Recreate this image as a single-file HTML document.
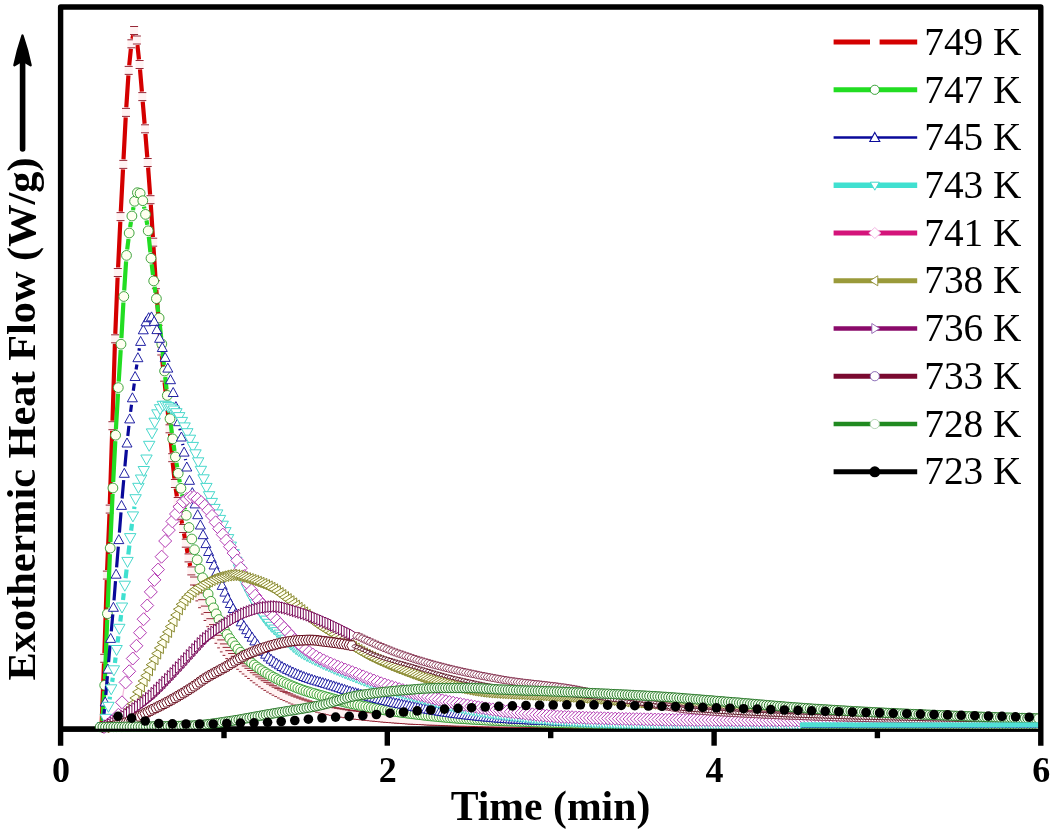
<!DOCTYPE html>
<html lang="en"><head><meta charset="utf-8"><title>Exothermic Heat Flow vs Time</title>
<style>html,body{margin:0;padding:0;background:#fff}body{width:1053px;height:835px;overflow:hidden}svg{display:block}</style>
</head><body>
<svg width="1053" height="835" viewBox="0 0 1053 835">
<rect width="1053" height="835" fill="#fff"/>
<defs>
<marker id="ma" markerUnits="userSpaceOnUse" markerWidth="16" markerHeight="16" refX="8" refY="8" viewBox="0 0 16 16" orient="0" overflow="visible"><rect x="4" y="4" width="8" height="8" fill="#fff2f2"/><path d="M4 4H12M4 12H12" stroke="#8a1020" stroke-width="0.9"/></marker>
<marker id="mb" markerUnits="userSpaceOnUse" markerWidth="16" markerHeight="16" refX="8" refY="8" viewBox="0 0 16 16" orient="0" overflow="visible"><circle cx="8" cy="8" r="4.9" fill="#fffff0" stroke="#2a9a2a" stroke-width="0.9"/></marker>
<marker id="mc" markerUnits="userSpaceOnUse" markerWidth="16" markerHeight="16" refX="8" refY="8" viewBox="0 0 16 16" orient="0" overflow="visible"><polygon points="8,3 13,12 3,12" fill="#fff" stroke="#0a0a9a" stroke-width="0.9"/></marker>
<marker id="md" markerUnits="userSpaceOnUse" markerWidth="16" markerHeight="16" refX="8" refY="8" viewBox="0 0 16 16" orient="0" overflow="visible"><polygon points="8,13.5 13.7,3.5 2.3,3.5" fill="#fff" stroke="#48d8cc" stroke-width="1.0"/></marker>
<marker id="nd" markerUnits="userSpaceOnUse" markerWidth="16" markerHeight="16" refX="8" refY="8" viewBox="0 0 16 16" orient="0" overflow="visible"><rect x="6" y="5.3" width="4" height="5" fill="#50e0d4"/></marker>
<marker id="me" markerUnits="userSpaceOnUse" markerWidth="16" markerHeight="16" refX="8" refY="8" viewBox="0 0 16 16" orient="0" overflow="visible"><polygon points="8,1.5 14.5,8 8,14.5 1.5,8" fill="#fff" stroke="#b43cb4" stroke-width="1.0"/></marker>
<marker id="mf" markerUnits="userSpaceOnUse" markerWidth="16" markerHeight="16" refX="8" refY="8" viewBox="0 0 16 16" orient="0" overflow="visible"><polygon points="3,8 12,2.4 12,13.6" fill="#fffff0" stroke="#8a8a30" stroke-width="1.0"/></marker>
<marker id="mg" markerUnits="userSpaceOnUse" markerWidth="16" markerHeight="16" refX="8" refY="8" viewBox="0 0 16 16" orient="0" overflow="visible"><polygon points="13,8 4,2.2 4,13.8" fill="#fff" stroke="#7a0a5a" stroke-width="1.0"/></marker>
<marker id="ng" markerUnits="userSpaceOnUse" markerWidth="16" markerHeight="16" refX="8" refY="8" viewBox="0 0 16 16" orient="0" overflow="visible"><polygon points="4.5,8 7,4.6 11.5,4.6 9,8 11.5,11.4 7,11.4" fill="#fff" stroke="#7a2040" stroke-width="0.8"/></marker>
<marker id="mh" markerUnits="userSpaceOnUse" markerWidth="16" markerHeight="16" refX="8" refY="8" viewBox="0 0 16 16" orient="0" overflow="visible"><polygon points="3,8 5.5,3.3 10.5,3.3 13,8 10.5,12.7 5.5,12.7" fill="#fff" stroke="#6a1020" stroke-width="1.0"/></marker>
<marker id="nh" markerUnits="userSpaceOnUse" markerWidth="16" markerHeight="16" refX="8" refY="8" viewBox="0 0 16 16" orient="0" overflow="visible"><polygon points="5.5,8 7,6.4 10.5,6.4 9,8 10.5,9.6 7,9.6" fill="#fff" stroke="#5a1020" stroke-width="0.9"/></marker>
<marker id="mi" markerUnits="userSpaceOnUse" markerWidth="16" markerHeight="16" refX="8" refY="8" viewBox="0 0 16 16" orient="0" overflow="visible"><circle cx="8" cy="8" r="4.7" fill="#f4fff0" stroke="#2a7a2a" stroke-width="1.0"/></marker>
<marker id="mj" markerUnits="userSpaceOnUse" markerWidth="16" markerHeight="16" refX="8" refY="8" viewBox="0 0 16 16" orient="0" overflow="visible"><circle cx="8" cy="8" r="4.8" fill="#000" stroke="#000" stroke-width="0"/></marker>
</defs>
<path d="M60.6 729H1040.8" stroke="#000" stroke-width="5.4" fill="none"/>
<clipPath id="pc"><rect x="56" y="0" width="987" height="740"/></clipPath>
<g fill="none" stroke-linejoin="round" clip-path="url(#pc)">
<path d="M101.7 722L104 663.3M104.4 653.3L106.8 580.1M107.1 570.1L109.5 514.1M109.8 504.1L112.2 430.7M112.5 420.7L114.9 343.8M115.3 333.8L117.6 277.5M118.1 267.5L120.3 221.6M120.8 211.6L123 169.4M123.5 159.4L125.7 117.4M126.3 107.4L128.4 75.3M129.2 65.4L130.9 48.7M132.4 38.9L133.1 35.4M137.4 44.9L139 59.5M140 69.4L141.9 91.6M142.7 101.6L144.6 123.8M145.4 133.8L147.3 157.5M148.1 167.5L150.1 194.7M150.8 204.7L152.9 237.2M153.5 247.2L155.6 279.7M156.3 289.7L158.3 316.4M159.1 326.4L160.9 346M161.9 356L163.5 372.2M164.6 382.2L166.2 397.4M167.3 407.3L169 423.8M170 433.8L171.8 452.7M172.7 462.7L174.4 478.6M175.7 488.5L176.9 496.5M178.6 506.4L179.4 510.3M181.4 520.2L182.1 523.6M184 533.4L184.9 538.3M186.7 548.1L187.6 553M189.6 562.8L190.2 566" stroke="#d40000" stroke-width="4.2"/>
<polyline points="101.5,727 104.2,658.3 106.9,575.1 109.7,509.1 112.4,425.7 115.1,338.8 117.8,272.5 120.5,216.6 123.3,164.4 126,112.4 128.7,70.4 131.4,43.8 134.1,30.5 136.9,40 139.6,64.5 142.3,96.6 145,128.8 147.7,162.5 150.5,199.7 153.2,242.2 155.9,284.7 158.6,321.4 161.3,351 164.1,377.2 166.8,402.3 169.5,428.8 172.2,457.7 174.9,483.5 177.7,501.5 180.4,515.3 183.1,528.5 185.8,543.2 188.5,557.9 191.3,570.9 194,581 196.7,589.4 199.4,596.9 202.1,603.7 204.9,610.1 207.6,616.5 210.3,622.7 213,628.6 215.7,634.2 218.5,639.3 221.2,643.9 223.9,647.9 226.6,651.4 229.3,654.6 232.1,657.5 234.8,660.3 237.5,662.8 240.2,665.3 242.9,667.7 245.7,670 248.4,672.3 251.1,674.5 253.8,676.7 256.5,678.8 259.3,680.9 262,682.8 264.7,684.7 267.4,686.4 270.1,688.1 272.9,689.7 275.6,691.2 278.3,692.6 281,694 283.7,695.4 286.5,696.6 289.2,697.8 291.9,699 294.6,700.1 297.3,701.1 300.1,702.1 302.8,703.1 305.5,704 308.2,704.9 310.9,705.8 313.7,706.6 316.4,707.4 319.1,708.2 321.8,708.9 324.5,709.5 327.3,710.1 330,710.7 332.7,711.3 335.4,711.8 338.1,712.3 340.9,712.8 343.6,713.2 346.3,713.7 349,714.1 351.7,714.5 354.5,714.8 357.2,715.2 359.9,715.5 362.6,715.8 365.3,716.1 368.1,716.4 370.8,716.7 373.5,717 376.2,717.2 378.9,717.5 381.7,717.8 384.4,718 387.1,718.3 389.8,718.5 392.5,718.7 395.3,718.9 398,719.1 400.7,719.3 403.4,719.5 406.1,719.7 408.9,719.9 411.6,720.1 414.3,720.2 417,720.4 419.7,720.5 422.5,720.6 425.2,720.7 427.9,720.9 430.6,721 433.3,721.1 436.1,721.2 438.8,721.3 441.5,721.4 444.2,721.5 446.9,721.6 449.7,721.7 452.4,721.8 455.1,721.9 457.8,722 460.5,722.1 463.3,722.2 466,722.2 468.7,722.3 471.4,722.4 474.1,722.5 476.9,722.5 479.6,722.6 482.3,722.7 485,722.7 487.7,722.8 490.5,722.8 493.2,722.9 495.9,722.9 498.6,723 501.3,723 504.1,723.1 506.8,723.1 509.5,723.1 512.2,723.2 514.9,723.2 517.7,723.3 520.4,723.3 523.1,723.3 525.8,723.4 528.5,723.4 531.3,723.4 534,723.5 536.7,723.5 539.4,723.5 542.1,723.6 544.9,723.6 547.6,723.6 550.3,723.7 553,723.7 555.7,723.7 558.5,723.7 561.2,723.8 563.9,723.8 566.6,723.8 569.3,723.8 572.1,723.9 574.8,723.9 577.5,723.9 580.2,723.9 582.9,723.9 585.7,723.9 588.4,724 591.1,724 593.8,724 596.5,724 599.3,724 602,724 604.7,724 607.4,724 610.1,724 612.9,724 615.6,724 618.3,724 621,724.1 623.7,724.1 626.5,724.1 629.2,724.1 631.9,724.1 634.6,724.1 637.3,724.1 640.1,724.1 642.8,724.1 645.5,724.1 648.2,724.1 650.9,724.1 653.7,724.1 656.4,724.1 659.1,724.1 661.8,724.1 664.5,724.1 667.3,724.1 670,724.2 672.7,724.2 675.4,724.2 678.1,724.2 680.9,724.2 683.6,724.2 686.3,724.2 689,724.2 691.7,724.2 694.5,724.2 697.2,724.2 699.9,724.2 702.6,724.2 705.3,724.2 708.1,724.2 710.8,724.2 713.5,724.2 716.2,724.2 718.9,724.2 721.7,724.2 724.4,724.3 727.1,724.3 729.8,724.3 732.5,724.3 735.3,724.3 738,724.3 740.7,724.3 743.4,724.3 746.1,724.3 748.9,724.3 751.6,724.3 754.3,724.3 757,724.3 759.7,724.3 762.5,724.3 765.2,724.3 767.9,724.3 770.6,724.3 773.3,724.3 776.1,724.3 778.8,724.3 781.5,724.3 784.2,724.3 786.9,724.3 789.7,724.3 792.4,724.4 795.1,724.4 797.8,724.4 800.5,724.4 803.3,724.4 806,724.4 808.7,724.4 811.4,724.4 814.1,724.4 816.9,724.4 819.6,724.4 822.3,724.4 825,724.4 827.7,724.4 830.5,724.4 833.2,724.4 835.9,724.4 838.6,724.4 841.3,724.4 844.1,724.4 846.8,724.4 849.5,724.4 852.2,724.4 854.9,724.4 857.7,724.4 860.4,724.4 863.1,724.4 865.8,724.4 868.5,724.4 871.3,724.4 874,724.4 876.7,724.4 879.4,724.4 882.1,724.4 884.9,724.4 887.6,724.4 890.3,724.4 893,724.5 895.7,724.5 898.5,724.5 901.2,724.5 903.9,724.5 906.6,724.5 909.3,724.5 912.1,724.5 914.8,724.5 917.5,724.5 920.2,724.5 922.9,724.5 925.7,724.5 928.4,724.5 931.1,724.5 933.8,724.5 936.5,724.5 939.3,724.5 942,724.5 944.7,724.5 947.4,724.5 950.1,724.5 952.9,724.5 955.6,724.5 958.3,724.5 961,724.5 963.7,724.5 966.5,724.5 969.2,724.5 971.9,724.5 974.6,724.5 977.3,724.5 980.1,724.5 982.8,724.5 985.5,724.5 988.2,724.5 990.9,724.5 993.7,724.5 996.4,724.5 999.1,724.5 1001.8,724.5 1004.5,724.5 1007.3,724.5 1010,724.5 1012.7,724.5 1015.4,724.5 1018.1,724.5 1020.9,724.5 1023.6,724.5 1026.3,724.5 1029,724.5 1031.7,724.5 1034.5,724.5 1037.2,724.5 1039.9,724.5" stroke="none" marker-start="url(#ma)" marker-mid="url(#ma)" marker-end="url(#ma)"/>
<path d="M102.4 721L104.3 691.2M104.9 679.3L107.2 619.7M107.7 607.7L109.9 554.1M110.4 542.1L112.6 494M113.2 482L115.3 441.2M115.9 429.3L118 393.6M118.7 381.6L120.7 350.2M121.4 338.2L123.4 302.5M124.2 290.5L126.1 261.4M127.2 249.4L128.5 239M130.1 227.1L131 221.9M133 210.1L133.5 207.2M144 206.6L144.4 208.6M146.5 220.4L147.3 224.9M148.8 236.8L150.4 252.4M151.7 264.3L153 274.9M154.6 286.8L155.5 292.7M157.2 304.6L158.3 312.1M159.7 324L161.2 338M162.4 349.9L164 365M165.2 376.9L166.6 389.5M168 401.4L169.3 412.7M170.8 424.6L171.9 433M173.6 444.8L174.5 451M176.4 462.8L177.2 467.4M179.2 479.2L179.8 482.4M182 494.2L182.5 496.4M184.8 508.1L185.1 509.4" stroke="#22dd22" stroke-width="4.2"/>
<polyline points="102,727 104.7,685.3 107.4,613.7 110.2,548.1 112.9,488 115.6,435.2 118.3,387.6 121,344.2 123.8,296.5 126.5,255.4 129.2,233 131.9,216 134.6,201.3 137.4,192.7 140.1,193.4 142.8,200.7 145.5,214.4 148.2,230.8 151,258.3 153.7,280.9 156.4,298.6 159.1,318 161.8,343.9 164.6,371 167.3,395.4 170,418.7 172.7,438.9 175.4,456.9 178.2,473.3 180.9,488.3 183.6,502.3 186.3,515.3 189,527.5 191.8,539 194.5,549.7 197.2,559.8 199.9,569.1 202.6,577.8 205.4,586.1 208.1,594 210.8,601.3 213.5,607.9 216.2,613.9 219,619.5 221.7,624.8 224.4,629.8 227.1,634.4 229.8,638.6 232.6,642.4 235.3,645.9 238,649.2 240.7,652.3 243.4,655.2 246.2,657.9 248.9,660.5 251.6,662.9 254.3,665 257,667 259.8,668.9 262.5,670.7 265.2,672.4 267.9,674 270.6,675.6 273.4,677.1 276.1,678.5 278.8,679.9 281.5,681.2 284.2,682.5 287,683.7 289.7,684.9 292.4,686 295.1,687.1 297.8,688.2 300.6,689.2 303.3,690.2 306,691.1 308.7,691.9 311.4,692.8 314.2,693.5 316.9,694.3 319.6,695.1 322.3,695.8 325,696.6 327.8,697.3 330.5,698.1 333.2,698.9 335.9,699.6 338.6,700.4 341.4,701.2 344.1,701.9 346.8,702.6 349.5,703.2 352.2,703.8 355,704.4 357.7,705 360.4,705.5 363.1,706.1 365.8,706.6 368.6,707.1 371.3,707.6 374,708.1 376.7,708.6 379.4,709.1 382.2,709.5 384.9,710 387.6,710.4 390.3,710.8 393,711.2 395.8,711.6 398.5,712 401.2,712.4 403.9,712.7 406.6,713.1 409.4,713.4 412.1,713.8 414.8,714.1 417.5,714.4 420.2,714.7 423,715.1 425.7,715.4 428.4,715.7 431.1,716 433.8,716.2 436.6,716.5 439.3,716.8 442,717 444.7,717.3 447.4,717.5 450.2,717.8 452.9,718 455.6,718.2 458.3,718.4 461,718.6 463.8,718.7 466.5,718.9 469.2,719.1 471.9,719.3 474.6,719.4 477.4,719.6 480.1,719.7 482.8,719.9 485.5,720 488.2,720.2 491,720.3 493.7,720.4 496.4,720.6 499.1,720.7 501.8,720.8 504.6,720.9 507.3,721 510,721.1 512.7,721.2 515.4,721.3 518.2,721.4 520.9,721.5 523.6,721.6 526.3,721.7 529,721.8 531.8,721.9 534.5,722 537.2,722.1 539.9,722.2 542.6,722.3 545.4,722.3 548.1,722.4 550.8,722.5 553.5,722.6 556.2,722.7 559,722.8 561.7,722.8 564.4,722.9 567.1,723 569.8,723 572.6,723.1 575.3,723.2 578,723.2 580.7,723.3 583.4,723.3 586.2,723.4 588.9,723.4 591.6,723.4 594.3,723.5 597,723.5 599.8,723.5 602.5,723.5 605.2,723.5 607.9,723.5 610.6,723.6 613.4,723.6 616.1,723.6 618.8,723.6 621.5,723.6 624.2,723.6 627,723.6 629.7,723.6 632.4,723.7 635.1,723.7 637.8,723.7 640.6,723.7 643.3,723.7 646,723.7 648.7,723.7 651.4,723.7 654.2,723.8 656.9,723.8 659.6,723.8 662.3,723.8 665,723.8 667.8,723.8 670.5,723.8 673.2,723.8 675.9,723.8 678.6,723.9 681.4,723.9 684.1,723.9 686.8,723.9 689.5,723.9 692.2,723.9 695,723.9 697.7,723.9 700.4,723.9 703.1,724 705.8,724 708.6,724 711.3,724 714,724 716.7,724 719.4,724 722.2,724 724.9,724 727.6,724 730.3,724 733,724.1 735.8,724.1 738.5,724.1 741.2,724.1 743.9,724.1 746.6,724.1 749.4,724.1 752.1,724.1 754.8,724.1 757.5,724.1 760.2,724.1 763,724.1 765.7,724.2 768.4,724.2 771.1,724.2 773.8,724.2 776.6,724.2 779.3,724.2 782,724.2 784.7,724.2 787.4,724.2 790.2,724.2 792.9,724.2 795.6,724.2 798.3,724.2 801,724.2 803.8,724.2 806.5,724.3 809.2,724.3 811.9,724.3 814.6,724.3 817.4,724.3 820.1,724.3 822.8,724.3 825.5,724.3 828.2,724.3 831,724.3 833.7,724.3 836.4,724.3 839.1,724.3 841.8,724.3 844.6,724.3 847.3,724.3 850,724.3 852.7,724.3 855.4,724.4 858.2,724.4 860.9,724.4 863.6,724.4 866.3,724.4 869,724.4 871.8,724.4 874.5,724.4 877.2,724.4 879.9,724.4 882.6,724.4 885.4,724.4 888.1,724.4 890.8,724.4 893.5,724.4 896.2,724.4 899,724.4 901.7,724.4 904.4,724.4 907.1,724.4 909.8,724.4 912.6,724.4 915.3,724.4 918,724.4 920.7,724.4 923.4,724.4 926.2,724.4 928.9,724.4 931.6,724.5 934.3,724.5 937,724.5 939.8,724.5 942.5,724.5 945.2,724.5 947.9,724.5 950.6,724.5 953.4,724.5 956.1,724.5 958.8,724.5 961.5,724.5 964.2,724.5 967,724.5 969.7,724.5 972.4,724.5 975.1,724.5 977.8,724.5 980.6,724.5 983.3,724.5 986,724.5 988.7,724.5 991.4,724.5 994.2,724.5 996.9,724.5 999.6,724.5 1002.3,724.5 1005,724.5 1007.8,724.5 1010.5,724.5 1013.2,724.5 1015.9,724.5 1018.6,724.5 1021.4,724.5 1024.1,724.5 1026.8,724.5 1029.5,724.5 1032.2,724.5 1035,724.5 1037.7,724.5" stroke="none" marker-start="url(#mb)" marker-mid="url(#mb)" marker-end="url(#mb)"/>
<path d="M103.3 720L104.5 709M105.8 695L107.4 676.1M108.6 662.1L110 645.3M111.3 631.4L112.8 614.3M114 600.3L115.5 581.2M116.6 567.3L118.3 546.6M119.4 532.6L121 512.4M122.1 498.5L123.7 480.2M124.9 466.3L126.4 449.9M127.8 436L128.9 425.8M130.6 411.9L131.5 404.7M133.3 390.8L134.3 383.5M136.1 369.6L136.9 364.6M139 350.8L139.4 348.3M177.2 413.5L177.4 414.8M179.9 428.6L180.2 430.2M182.6 443.9L182.9 445.2M185.4 459L185.6 460.1" stroke="#0a0a9a" stroke-width="3.2"/>
<polyline points="102.5,727 105.2,702 107.9,669.1 110.7,638.4 113.4,607.3 116.1,574.2 118.8,539.6 121.5,505.4 124.3,473.3 127,443 129.7,418.9 132.4,397.8 135.1,376.5 137.9,357.7 140.6,341.4 143.3,329.8 146,321.8 148.7,317.7 151.5,316.9 154.2,321.4 156.9,329.6 159.6,338.3 162.3,347.5 165.1,357.4 167.8,368.1 170.5,379.7 173.2,392.5 175.9,406.6 178.7,421.7 181.4,437 184.1,452.1 186.8,467 189.5,480.3 192.3,492.6 195,503.9 197.7,514.7 200.4,525 203.1,534.7 205.9,543.6 208.6,551.5 211.3,558.5 214,565 216.7,571.6 219.5,578.5 222.2,585.4 224.9,592.1 227.6,598.2 230.3,603.5 233.1,608.5 235.8,613.2 238.5,617.6 241.2,621.8 243.9,625.8 246.7,629.7 249.4,633.5 252.1,637.2 254.8,640.9 257.5,644.6 260.3,648 263,651.3 265.7,654.2 268.4,656.9 271.1,659.2 273.9,661.3 276.6,663.1 279.3,664.8 282,666.5 284.7,668 287.5,669.4 290.2,670.7 292.9,672 295.6,673.2 298.3,674.3 301.1,675.4 303.8,676.5 306.5,677.5 309.2,678.4 311.9,679.3 314.7,680.2 317.4,681 320.1,681.8 322.8,682.6 325.5,683.4 328.3,684.2 331,685.1 333.7,685.9 336.4,686.8 339.1,687.7 341.9,688.6 344.6,689.4 347.3,690.3 350,691.1 352.7,691.9 355.5,692.7 358.2,693.4 360.9,694.2 363.6,694.9 366.3,695.7 369.1,696.4 371.8,697.1 374.5,697.8 377.2,698.5 379.9,699.2 382.7,699.8 385.4,700.5 388.1,701.1 390.8,701.7 393.5,702.4 396.3,703 399,703.5 401.7,704.1 404.4,704.7 407.1,705.2 409.9,705.8 412.6,706.3 415.3,706.8 418,707.3 420.7,707.9 423.5,708.4 426.2,708.9 428.9,709.3 431.6,709.8 434.3,710.3 437.1,710.7 439.8,711.2 442.5,711.6 445.2,712 447.9,712.4 450.7,712.8 453.4,713.2 456.1,713.6 458.8,713.9 461.5,714.2 464.3,714.6 467,714.9 469.7,715.2 472.4,715.5 475.1,715.8 477.9,716.1 480.6,716.4 483.3,716.7 486,716.9 488.7,717.2 491.5,717.4 494.2,717.7 496.9,717.9 499.6,718.1 502.3,718.3 505.1,718.5 507.8,718.7 510.5,718.9 513.2,719 515.9,719.2 518.7,719.3 521.4,719.4 524.1,719.6 526.8,719.7 529.5,719.8 532.3,719.9 535,720.1 537.7,720.2 540.4,720.3 543.1,720.4 545.9,720.5 548.6,720.6 551.3,720.7 554,720.8 556.7,720.9 559.5,721 562.2,721.1 564.9,721.2 567.6,721.3 570.3,721.3 573.1,721.4 575.8,721.5 578.5,721.6 581.2,721.6 583.9,721.7 586.7,721.8 589.4,721.8 592.1,721.9 594.8,721.9 597.5,722 600.3,722 603,722 605.7,722.1 608.4,722.1 611.1,722.2 613.9,722.2 616.6,722.2 619.3,722.3 622,722.3 624.7,722.4 627.5,722.4 630.2,722.4 632.9,722.5 635.6,722.5 638.3,722.5 641.1,722.6 643.8,722.6 646.5,722.6 649.2,722.7 651.9,722.7 654.7,722.7 657.4,722.7 660.1,722.8 662.8,722.8 665.5,722.8 668.3,722.8 671,722.8 673.7,722.9 676.4,722.9 679.1,722.9 681.9,722.9 684.6,722.9 687.3,722.9 690,723 692.7,723 695.5,723 698.2,723 700.9,723 703.6,723 706.3,723 709.1,723 711.8,723 714.5,723 717.2,723 719.9,723.1 722.7,723.1 725.4,723.1 728.1,723.1 730.8,723.1 733.5,723.1 736.3,723.1 739,723.1 741.7,723.1 744.4,723.1 747.1,723.1 749.9,723.1 752.6,723.1 755.3,723.2 758,723.2 760.7,723.2 763.5,723.2 766.2,723.2 768.9,723.2 771.6,723.2 774.3,723.2 777.1,723.2 779.8,723.2 782.5,723.2 785.2,723.2 787.9,723.2 790.7,723.2 793.4,723.2 796.1,723.2 798.8,723.2 801.5,723.3 804.3,723.3 807,723.3 809.7,723.3 812.4,723.3 815.1,723.3 817.9,723.3 820.6,723.3 823.3,723.3 826,723.3 828.7,723.3 831.5,723.3 834.2,723.3 836.9,723.3 839.6,723.3 842.3,723.3 845.1,723.3 847.8,723.3 850.5,723.3 853.2,723.4 855.9,723.4 858.7,723.4 861.4,723.4 864.1,723.4 866.8,723.4 869.5,723.4 872.3,723.4 875,723.4 877.7,723.4 880.4,723.4 883.1,723.4 885.9,723.4 888.6,723.4 891.3,723.4 894,723.4 896.7,723.4 899.5,723.4 902.2,723.4 904.9,723.4 907.6,723.4 910.3,723.4 913.1,723.4 915.8,723.4 918.5,723.4 921.2,723.4 923.9,723.4 926.7,723.4 929.4,723.4 932.1,723.5 934.8,723.5 937.5,723.5 940.3,723.5 943,723.5 945.7,723.5 948.4,723.5 951.1,723.5 953.9,723.5 956.6,723.5 959.3,723.5 962,723.5 964.7,723.5 967.5,723.5 970.2,723.5 972.9,723.5 975.6,723.5 978.3,723.5 981.1,723.5 983.8,723.5 986.5,723.5 989.2,723.5 991.9,723.5 994.7,723.5 997.4,723.5 1000.1,723.5 1002.8,723.5 1005.5,723.5 1008.3,723.5 1011,723.5 1013.7,723.5 1016.4,723.5 1019.1,723.5 1021.9,723.5 1024.6,723.5 1027.3,723.5 1030,723.5 1032.7,723.5 1035.5,723.5 1038.2,723.5" stroke="none" marker-start="url(#mc)" marker-mid="url(#mc)" marker-end="url(#mc)"/>
<path d="M109.6 699.4L110 696.7M112.2 681.9L112.8 677.7M114.9 662.9L115.6 657.5M117.6 642.6L118.4 636.3M120.3 621.4L121.1 614.9M123 600L123.8 593.2M125.6 578.3L126.6 569.4M128.3 554.5L129.4 545.5M131.1 530.6L132 523.9M134.1 509L134.5 506.6" stroke="#40e0d0" stroke-width="4.2"/>
<polyline points="103,727 105.7,718.8 108.4,706.8 111.2,689.3 113.9,670.3 116.6,650 119.3,628.8 122,607.5 124.8,585.7 127.5,561.9 130.2,538.1 132.9,516.4 135.6,499.2 138.4,487.8 141.1,479.5 143.8,471 146.5,459.5 149.2,445.8 152,433.4 154.7,422.7 157.4,414.3 160.1,409.2 162.8,405.8 165.6,405.8 168.3,407.1 171,408.6 173.7,410.5 176.4,413.2 179.2,417.1 181.9,421.9 184.6,427.4 187.3,433.2 190,439.7 192.8,446.9 195.5,454.3 198.2,462.3 200.9,470.8 203.6,479.3 206.4,487.9 209.1,496.2 211.8,502.9 214.5,508.9 217.2,514.4 220,519.9 222.7,525.7 225.4,532.1 228.1,539.1 230.8,546.6 233.6,554.2 236.3,561.8 239,569.3 241.7,576.5 244.4,583.2 247.2,589.1 249.9,594.4 252.6,599.5 255.3,604.3 258,608.8 260.8,613 263.5,617 266.2,620.6 268.9,623.8 271.6,626.8 274.4,629.5 277.1,632.1 279.8,634.6 282.5,637.1 285.2,639.6 288,642.1 290.7,644.6 293.4,647 296.1,649.2 298.8,651.2 301.6,653 304.3,654.6 307,656.1 309.7,657.5 312.4,658.8 315.2,660.1 317.9,661.4 320.6,662.7 323.3,664 326,665.2 328.8,666.4 331.5,667.6 334.2,668.8 336.9,669.9 339.6,671.1 342.4,672.2 345.1,673.3 347.8,674.4 350.5,675.5 353.2,676.5 356,677.6 358.7,678.6 361.4,679.7 364.1,680.7 366.8,681.7 369.6,682.7 372.3,683.7 375,684.7 377.7,685.6 380.4,686.6 383.2,687.5 385.9,688.4 388.6,689.2 391.3,690.1 394,690.9 396.8,691.7 399.5,692.5 402.2,693.3 404.9,694 407.6,694.7 410.4,695.5 413.1,696.2 415.8,696.9 418.5,697.6 421.2,698.3 424,699.1 426.7,699.8 429.4,700.5 432.1,701.3 434.8,702 437.6,702.7 440.3,703.4 443,704.1 445.7,704.8 448.4,705.5 451.2,706.1 453.9,706.7 456.6,707.3 459.3,707.9 462,708.4 464.8,708.9 467.5,709.4 470.2,709.9 472.9,710.4 475.6,710.8 478.4,711.3 481.1,711.7 483.8,712.2 486.5,712.6 489.2,713 492,713.4 494.7,713.8 497.4,714.2 500.1,714.5 502.8,714.9 505.6,715.2 508.3,715.6 511,715.9 513.7,716.2 516.4,716.5 519.2,716.8 521.9,717.1 524.6,717.4 527.3,717.7 530,718 532.8,718.3 535.5,718.5 538.2,718.8 540.9,719 543.6,719.3 546.4,719.5 549.1,719.8 551.8,720 554.5,720.2 557.2,720.4 560,720.6 562.7,720.8 565.4,721 568.1,721.1 570.8,721.3 573.6,721.5 576.3,721.6 579,721.8 581.7,721.9 584.4,722.1 587.2,722.2 589.9,722.3 592.6,722.5 595.3,722.6 598,722.7 600.8,722.8 603.5,722.9 606.2,723 608.9,723.1 611.6,723.2 614.4,723.3 617.1,723.4 619.8,723.5 622.5,723.6 625.2,723.6 628,723.7 630.7,723.8 633.4,723.9 636.1,723.9 638.8,724 641.6,724.1 644.3,724.1 647,724.2 649.7,724.3 652.4,724.3 655.2,724.4 657.9,724.5 660.6,724.5 663.3,724.6 666,724.6 668.8,724.7 671.5,724.7 674.2,724.8 676.9,724.8 679.6,724.8 682.4,724.9 685.1,724.9 687.8,724.9 690.5,725 693.2,725 696,725 698.7,725 701.4,725 704.1,725 706.8,725 709.6,725 712.3,725 715,725 717.7,725 720.4,725 723.2,725 725.9,725 728.6,725 731.3,725 734,725 736.8,725 739.5,725.1 742.2,725.1 744.9,725.1 747.6,725.1 750.4,725.1 753.1,725.1 755.8,725.1 758.5,725.1 761.2,725.1 764,725.1 766.7,725.1 769.4,725.1 772.1,725.1 774.8,725.1 777.6,725.1 780.3,725.1 783,725.1 785.7,725.1 788.4,725.1 791.2,725.1 793.9,725.1 796.6,725.1 799.3,725.1" stroke="none" marker-start="url(#md)" marker-mid="url(#md)" marker-end="url(#md)"/>
<path d="M104 727L106 725.8L108 724.4L110 722.8L112 721L114 719.3L116 717.6L118 715.4L120 712.1L121.5 706.1L122 702.3L122.5 698.2L123 694.3L123.5 690.9L124.5 686.4L125.5 682.8L126.5 679.6L128 675.2L129 672L130 668.5L131 665L132 661.4L133 657.8L134 654.2L135 650.7L136 647.2L137 643.7L138 640.1L139 636.4L140 632.7L141 629L142 625.2L143 621.5L144 617.7L145 613.9L146 610.1L147 606.3L148 602.4L149 598.6L150 594.8L151 591.2L152 587.8L153 584.4L154 581.1L155 578L156.5 573.7L158 569.6L159.5 565.1L160.5 561.3L161.5 557.1L162.5 552.6L163.5 548.1L164.5 543.8L165.5 539.9L166.5 536.6L168 532.2L169.5 528.2L171 524.6L172.5 521.2L174 518L175.5 515L177 512L179 508L181 504.6L183 501.9L185 500.2L187 498.8L189 497.7L191 497L193 496.8L195 497.4L197 498.5L199 500.1L201 501.9L203 504L205 506L207 508.3L209 511.1L211 514.2L213 517.7L215 521.2L217 524.8L219 528.3L221 531.6L223 534.9L225 538.2L227 541.5L229 544.9L231 548.4L233 552L235 555.8L236.5 558.9L238 562.1L239.5 565.3L241 568.7L242.5 572L244 575.3L245.5 578.5L247 581.6L248.5 584.7L250.5 588.4L252.5 591.7L254.5 594.7L256.5 597.4L258.5 600L260.5 602.4L262.5 604.7L264.5 606.9L266.5 609.1L268.5 611.3L270.5 613.6L272.5 615.8L274.5 617.9L276.5 620.1L278.5 622.2L280.5 624.3L282.5 626.4L284.5 628.5L286.5 630.6L288.5 632.9L290.5 635.1L292.5 637.4L294.5 639.6L296.5 641.7L298.5 643.7L300.5 645.4L302.5 647.1L304.5 648.7L306.5 650.2L308.5 651.6L310.5 653L312.5 654.3L314.5 655.6L316.5 656.7L318.5 657.8L320.5 658.9L322.5 659.9L324.5 660.8L326.5 661.8L328.5 662.7L330.5 663.6L332.5 664.4L334.5 665.3L336.5 666.1L338.5 666.9L340.5 667.7L342.5 668.4L344.5 669.2L346.5 670L348.5 670.7L350.5 671.5L352.5 672.2L354.5 673L356.5 673.8L358.5 674.6L360.5 675.4L362.5 676.2L364.5 677L366.5 677.7L368.5 678.5L370.5 679.3L372.5 680L374.5 680.8L376.5 681.5L378.5 682.3L380.5 683L382.5 683.7L384.5 684.4L386.5 685.1L388.5 685.8L390.5 686.4L392.5 687.1L394.5 687.7L396.5 688.3L398.5 688.9L400.5 689.5L402.5 690L404.5 690.6L406.5 691.1L408.5 691.7L410.5 692.2L412.5 692.8L414.5 693.3L416.5 693.8L418.5 694.4L420.5 694.9L422.5 695.4L424.5 695.9L426.5 696.5L428.5 697L430.5 697.5L432.5 698L434.5 698.5L436.5 699L438.5 699.5L440.5 699.9L442.5 700.4L444.5 700.9L446.5 701.3L448.5 701.8L450.5 702.2L452.5 702.6L454.5 703L456.5 703.4L458.5 703.8L460.5 704.2L462.5 704.5L464.5 704.9L466.5 705.2L468.5 705.6L470.5 705.9L472.5 706.3L474.5 706.6L476.5 706.9L478.5 707.3L480.5 707.6L482.5 707.9L484.5 708.2L486.5 708.5L488.5 708.8L490.5 709.1L492.5 709.4L494.5 709.7L496.5 709.9L498.5 710.2L500.5 710.5L502.5 710.7L504.5 711L506.5 711.2L508.5 711.5L510.5 711.7L512.5 712L514.5 712.2L516.5 712.4L518.5 712.7L520.5 712.9L522.5 713.1L524.5 713.4L526.5 713.6L528.5 713.8L530.5 714L532.5 714.3L534.5 714.5L536.5 714.7L538.5 714.9L540.5 715.1L542.5 715.3L544.5 715.5L546.5 715.7L548.5 715.9L550.5 716L552.5 716.2L554.5 716.3L556.5 716.5L558.5 716.6L560.5 716.7L562.5 716.8L564.5 716.9L566.5 717L568.5 717.1L570.5 717.2L572.5 717.3L574.5 717.3L576.5 717.4L578.5 717.5L580.5 717.5L582.5 717.6L584.5 717.7L586.5 717.8L588.5 717.8L590.5 717.9L592.5 718L594.5 718L596.5 718.1L598.5 718.1L600.5 718.2L602.5 718.3L604.5 718.3L606.5 718.4L608.5 718.4L610.5 718.5L612.5 718.6L614.5 718.6L616.5 718.7L618.5 718.7L620.5 718.8L622.5 718.8L624.5 718.9L626.5 718.9L628.5 719L630.5 719L632.5 719.1L634.5 719.1L636.5 719.1L638.5 719.2L640.5 719.2L642.5 719.3L644.5 719.3L646.5 719.3L648.5 719.4L650.5 719.4L652.5 719.5L654.5 719.5L656.5 719.5L658.5 719.6L660.5 719.6L662.5 719.6L664.5 719.6L666.5 719.7L668.5 719.7L670.5 719.7L672.5 719.7L674.5 719.8L676.5 719.8L678.5 719.8L680.5 719.8L682.5 719.9L684.5 719.9L686.5 719.9L688.5 719.9L690.5 719.9L692.5 719.9L694.5 720L696.5 720L698.5 720L700.5 720L702.5 720L704.5 720L706.5 720L708.5 720L710.5 720.1L712.5 720.1L714.5 720.1L716.5 720.1L718.5 720.1L720.5 720.1L722.5 720.1L724.5 720.1L726.5 720.1L728.5 720.1L730.5 720.2L732.5 720.2L734.5 720.2L736.5 720.2L738.5 720.2L740.5 720.2L742.5 720.2L744.5 720.2L746.5 720.2L748.5 720.2L750.5 720.2L752.5 720.2L754.5 720.2L756.5 720.2L758.5 720.3L760.5 720.3L762.5 720.3L764.5 720.3L766.5 720.3L768.5 720.3L770.5 720.3L772.5 720.3L774.5 720.3L776.5 720.3L778.5 720.3L780.5 720.3L782.5 720.3L784.5 720.3L786.5 720.3L788.5 720.3L790.5 720.3L792.5 720.4L794.5 720.4L796.5 720.4L798.5 720.4L800.5 720.4L802.5 720.4L804.5 720.4L806.5 720.4L808.5 720.4L810.5 720.4L812.5 720.4L814.5 720.4L816.5 720.4L818.5 720.4L820.5 720.4L822.5 720.4L824.5 720.4L826.5 720.4L828.5 720.4L830.5 720.4L832.5 720.5L834.5 720.5L836.5 720.5L838.5 720.5L840.5 720.5L842.5 720.5L844.5 720.5L846.5 720.5L848.5 720.5L850.5 720.5L852.5 720.5L854.5 720.5L856.5 720.5L858.5 720.5L860.5 720.5L862.5 720.5L864.5 720.5L866.5 720.5L868.5 720.6L870.5 720.6L872.5 720.6L874.5 720.6L876.5 720.6L878.5 720.6L880.5 720.6L882.5 720.6L884.5 720.6L886.5 720.6L888.5 720.6L890.5 720.6L892.5 720.6L894.5 720.6L896.5 720.6L898.5 720.6L900.5 720.6L902.5 720.7L904.5 720.7L906.5 720.7L908.5 720.7L910.5 720.7L912.5 720.7L914.5 720.7L916.5 720.7L918.5 720.7L920.5 720.7L922.5 720.7L924.5 720.7L926.5 720.7L928.5 720.7L930.5 720.7L932.5 720.7L934.5 720.7L936.5 720.7L938.5 720.7L940.5 720.8L942.5 720.8L944.5 720.8L946.5 720.8L948.5 720.8L950.5 720.8L952.5 720.8L954.5 720.8L956.5 720.8L958.5 720.8L960.5 720.8L962.5 720.8L964.5 720.8L966.5 720.8L968.5 720.8L970.5 720.8L972.5 720.8L974.5 720.8L976.5 720.8L978.5 720.9L980.5 720.9L982.5 720.9L984.5 720.9L986.5 720.9L988.5 720.9L990.5 720.9L992.5 720.9L994.5 720.9L996.5 720.9L998.5 720.9L1000.5 720.9L1002.5 720.9L1004.5 720.9L1006.5 720.9L1008.5 720.9L1010.5 720.9L1012.5 720.9L1014.5 720.9L1016.5 720.9L1018.5 721L1020.5 721L1022.5 721L1024.5 721L1026.5 721L1028.5 721L1030.5 721L1032.5 721L1034.5 721L1036.5 721L1038.5 721L1040 721" stroke="#f4b8dc" stroke-width="1.2"/>
<polyline points="104,727 107.6,724.7 111.2,721.7 114.8,718.7 118.4,714.8 122,702.3 125.6,682.4 129.2,671.3 132.8,658.5 136.4,645.8 140,632.7 143.6,619.2 147.2,605.5 150.8,591.9 154.4,579.9 158,569.6 161.6,556.7 165.2,541 168.8,530.1 172.4,521.4 176,514 179.6,506.9 183.2,501.7 186.8,499 190.4,497.1 194,497 197.6,498.9 201.2,502.1 204.8,505.8 208.4,510.2 212,515.9 215.6,522.3 219.2,528.7 222.8,534.6 226.4,540.5 230,546.7 233.6,553.1 237.2,560.4 240.8,568.2 244.4,576.1 248,583.7 251.6,590.3 255.2,595.7 258.8,600.3 262.4,604.6 266,608.6 269.6,612.5 273.2,616.5 276.8,620.4 280.4,624.2 284,627.9 287.6,631.9 291.2,635.9 294.8,639.9 298.4,643.6 302,646.7 305.6,649.5 309.2,652.1 312.8,654.5 316.4,656.7 320,658.6 323.6,660.4 327.2,662.1 330.8,663.7 334.4,665.2 338,666.7 341.6,668.1 345.2,669.5 348.8,670.8 352.4,672.2 356,673.6 359.6,675 363.2,676.4 366.8,677.9 370.4,679.2 374,680.6 377.6,681.9 381.2,683.3 384.8,684.5 388.4,685.7 392,686.9 395.6,688 399.2,689.1 402.8,690.1 406.4,691.1 410,692.1 413.6,693.1 417.2,694 420.8,695 424.4,695.9 428,696.9 431.6,697.8 435.2,698.7 438.8,699.5 442.4,700.4 446,701.2 449.6,702 453.2,702.7 456.8,703.5 460.4,704.1 464,704.8 467.6,705.4 471.2,706.1 474.8,706.7 478.4,707.3 482,707.8 485.6,708.4 489.2,708.9 492.8,709.4 496.4,709.9 500,710.4 503.6,710.9 507.2,711.3 510.8,711.8 514.4,712.2 518,712.6 521.6,713 525.2,713.4 528.8,713.9 532.4,714.3 536,714.7 539.6,715 543.2,715.4 546.8,715.7 550.4,716 554,716.3 557.6,716.6 561.2,716.8 564.8,717 568.4,717.1 572,717.2 575.6,717.4 579.2,717.5 582.8,717.6 586.4,717.8 590,717.9 593.6,718 597.2,718.1 600.8,718.2 604.4,718.3 608,718.4 611.6,718.5 615.2,718.6 618.8,718.7 622.4,718.8 626,718.9 629.6,719 633.2,719.1 636.8,719.1 640.4,719.2 644,719.3 647.6,719.4 651.2,719.4 654.8,719.5 658.4,719.5 662,719.6 665.6,719.7 669.2,719.7 672.8,719.8 676.4,719.8 680,719.8 683.6,719.9 687.2,719.9 690.8,719.9 694.4,720 698,720 701.6,720 705.2,720 708.8,720 712.4,720.1 716,720.1 719.6,720.1 723.2,720.1 726.8,720.1 730.4,720.2 734,720.2 737.6,720.2 741.2,720.2 744.8,720.2 748.4,720.2 752,720.2 755.6,720.2 759.2,720.3 762.8,720.3 766.4,720.3 770,720.3 773.6,720.3 777.2,720.3 780.8,720.3 784.4,720.3 788,720.3 791.6,720.3 795.2,720.4 798.8,720.4 802.4,720.4 806,720.4 809.6,720.4 813.2,720.4 816.8,720.4 820.4,720.4 824,720.4 827.6,720.4 831.2,720.4 834.8,720.5 838.4,720.5 842,720.5 845.6,720.5 849.2,720.5 852.8,720.5 856.4,720.5 860,720.5 863.6,720.5 867.2,720.6 870.8,720.6 874.4,720.6 878,720.6 881.6,720.6 885.2,720.6 888.8,720.6 892.4,720.6 896,720.6 899.6,720.6 903.2,720.7 906.8,720.7 910.4,720.7 914,720.7 917.6,720.7 921.2,720.7 924.8,720.7 928.4,720.7 932,720.7 935.6,720.7 939.2,720.8 942.8,720.8 946.4,720.8 950,720.8 953.6,720.8 957.2,720.8 960.8,720.8 964.4,720.8 968,720.8 971.6,720.8 975.2,720.8 978.8,720.9 982.4,720.9 986,720.9 989.6,720.9 993.2,720.9 996.8,720.9 1000.4,720.9 1004,720.9 1007.6,720.9 1011.2,720.9 1014.8,720.9 1018.4,721 1022,721 1025.6,721 1029.2,721 1032.8,721 1036.4,721 1040,721" stroke="none" marker-start="url(#me)" marker-mid="url(#me)" marker-end="url(#me)"/>
<polyline points="105,727 107.7,725.8 110.4,724.4 113.2,722.8 115.9,721.1 118.6,719.3 121.3,717.3 124,715.1 126.8,712.4 129.5,708.9 132.2,703.9 134.9,698 137.6,691.9 140.4,686.4 143.1,681 145.8,675.6 148.5,670.2 151.2,664.7 154,659.1 156.7,653.5 159.4,648 162.1,642.6 164.8,637.2 167.6,631.9 170.3,626.5 173,621 175.7,615 178.4,609.2 181.2,604.3 183.9,600.4 186.6,597.1 189.3,594.2 192,591.6 194.8,589.4 197.5,587.5 200.2,585.7 202.9,584.1 205.6,582.7 208.4,581.3 211.1,580 213.8,578.9 216.5,577.9 219.2,577.2 222,576.5 224.7,575.8 227.4,575.3 230.1,575.1 232.8,575 235.6,575.3 238.3,575.9 241,576.6 243.7,577.4 246.4,578.3 249.2,579.1 251.9,580 254.6,580.9 257.3,581.9 260,582.9 262.8,584 265.5,585.2 268.2,586.5 270.9,587.9 273.6,589.4 276.4,591.1 279.1,593.1 281.8,595.1 284.5,597.2 287.2,599.2 290,601.3 292.7,603.5 295.4,605.7 298.1,607.9 300.8,610.2 303.6,612.5 306.3,614.9 309,617.4 311.7,619.9 314.4,622.2 317.2,624.3 319.9,626.1 322.6,627.9 325.3,629.6 328,631.2 330.8,632.8 333.5,634.5 336.2,636.3 338.9,638 341.6,639.8 344.4,641.6 347.1,643.4 349.8,645.2 352.5,646.9 355.2,648.6 358,650.2 360.7,651.8 363.4,653.4 366.1,654.8 368.8,656.2 371.6,657.5 374.3,658.8 377,660.1 379.7,661.3 382.4,662.5 385.2,663.7 387.9,664.9 390.6,666 393.3,667.1 396,668.2 398.8,669.2 401.5,670.3 404.2,671.3 406.9,672.3 409.6,673.4 412.4,674.3 415.1,675.3 417.8,676.3 420.5,677.2 423.2,678.1 426,679 428.7,679.8 431.4,680.6 434.1,681.3 436.8,682 439.6,682.7 442.3,683.4 445,684.1 447.7,684.8 450.4,685.5 453.2,686.2 455.9,686.8 458.6,687.5 461.3,688.1 464,688.6 466.8,689.2 469.5,689.7 472.2,690.2 474.9,690.6 477.6,691 480.4,691.4 483.1,691.7 485.8,692 488.5,692.2 491.2,692.4 494,692.6 496.7,692.8 499.4,693 502.1,693.1 504.8,693.3 507.6,693.4 510.3,693.5 513,693.7 515.7,693.8 518.4,693.9 521.2,694 523.9,694.2 526.6,694.3 529.3,694.5 532,694.6 534.8,694.8 537.5,694.9 540.2,695.1 542.9,695.2 545.6,695.4 548.4,695.5 551.1,695.7 553.8,695.8 556.5,696 559.2,696.1 562,696.3 564.7,696.4 567.4,696.6 570.1,696.7 572.8,696.9 575.6,697.1 578.3,697.2 581,697.4 583.7,697.6 586.4,697.8 589.2,698 591.9,698.2 594.6,698.5 597.3,698.7 600,698.9 602.8,699.2 605.5,699.4 608.2,699.7 610.9,699.9 613.6,700.2 616.4,700.4 619.1,700.7 621.8,700.9 624.5,701.2 627.2,701.4 630,701.7 632.7,701.9 635.4,702.2 638.1,702.4 640.8,702.7 643.6,702.9 646.3,703.1 649,703.3 651.7,703.6 654.4,703.8 657.2,704 659.9,704.2 662.6,704.4 665.3,704.6 668,704.8 670.8,705 673.5,705.2 676.2,705.4 678.9,705.6 681.6,705.8 684.4,706 687.1,706.2 689.8,706.4 692.5,706.5 695.2,706.7 698,706.9 700.7,707.1 703.4,707.3 706.1,707.5 708.8,707.6 711.6,707.8 714.3,708 717,708.2 719.7,708.4 722.4,708.5 725.2,708.7 727.9,708.9 730.6,709 733.3,709.2 736,709.4 738.8,709.5 741.5,709.7 744.2,709.9 746.9,710 749.6,710.2 752.4,710.4 755.1,710.5 757.8,710.7 760.5,710.9 763.2,711 766,711.2 768.7,711.3 771.4,711.5 774.1,711.6 776.8,711.8 779.6,711.9 782.3,712.1 785,712.2 787.7,712.4 790.4,712.5 793.2,712.7 795.9,712.8 798.6,713 801.3,713.1 804,713.2 806.8,713.3 809.5,713.5 812.2,713.6 814.9,713.7 817.6,713.8 820.4,714 823.1,714.1 825.8,714.2 828.5,714.3 831.2,714.4 834,714.6 836.7,714.7 839.4,714.8 842.1,714.9 844.8,715 847.6,715.1 850.3,715.2 853,715.3 855.7,715.4 858.4,715.6 861.2,715.7 863.9,715.8 866.6,715.9 869.3,716 872,716.1 874.8,716.2 877.5,716.3 880.2,716.4 882.9,716.4 885.6,716.5 888.4,716.6 891.1,716.7 893.8,716.8 896.5,716.9 899.2,717 902,717.1 904.7,717.1 907.4,717.2 910.1,717.3 912.8,717.4 915.6,717.5 918.3,717.6 921,717.6 923.7,717.7 926.4,717.8 929.2,717.9 931.9,718 934.6,718 937.3,718.1 940,718.2 942.8,718.3 945.5,718.3 948.2,718.4 950.9,718.5 953.6,718.6 956.4,718.6 959.1,718.7 961.8,718.8 964.5,718.9 967.2,718.9 970,719 972.7,719.1 975.4,719.1 978.1,719.2 980.8,719.3 983.6,719.3 986.3,719.4 989,719.5 991.7,719.5 994.4,719.6 997.2,719.7 999.9,719.7 1002.6,719.8 1005.3,719.8 1008,719.9 1010.8,720 1013.5,720 1016.2,720.1 1018.9,720.1 1021.6,720.2 1024.4,720.2 1027.1,720.3 1029.8,720.3 1032.5,720.4 1035.2,720.4 1038,720.5" stroke="none" marker-start="url(#mf)" marker-mid="url(#mf)" marker-end="url(#mf)"/>
<polyline points="106,727 108.7,725.8 111.4,724.5 114.2,723.1 116.9,721.6 119.6,720 122.3,718.3 125,716.4 127.8,714.4 130.5,712.4 133.2,710.4 135.9,708.5 138.6,706.5 141.4,704.6 144.1,702.5 146.8,700.4 149.5,698.2 152.2,695.8 155,693.2 157.7,690.5 160.4,687.8 163.1,684.9 165.8,682.1 168.6,679.2 171.3,676.3 174,673.4 176.7,670.5 179.4,667.5 182.2,664.5 184.9,661.4 187.6,658.4 190.3,655.4 193,652.4 195.8,649.4 198.5,646.4 201.2,643.4 203.9,640.7 206.6,638.3 209.4,636.1 212.1,634 214.8,632 217.5,630.1 220.2,628.2 223,626.5 225.7,624.7 228.4,623 231.1,621.2 233.8,619.5 236.6,617.9 239.3,616.4 242,615 244.7,613.7 247.4,612.6 250.2,611.6 252.9,610.6 255.6,609.7 258.3,608.9 261,608.2 263.8,607.7 266.5,607.3 269.2,607 271.9,606.7 274.6,606.5 277.4,606.5 280.1,606.8 282.8,607.2 285.5,607.8 288.2,608.5 291,609.3 293.7,610.1 296.4,610.9 299.1,611.7 301.8,612.5 304.6,613.4 307.3,614.3 310,615.3 312.7,616.3 315.4,617.4 318.2,618.5 320.9,619.6 323.6,620.7 326.3,621.9 329,623 331.8,624.2 334.5,625.5 337.2,626.8 339.9,628.1 342.6,629.4 345.4,630.8 348.1,632.2 350.8,633.5 353.5,634.8" stroke="none" marker-start="url(#mg)" marker-mid="url(#mg)" marker-end="url(#mg)"/>
<polyline points="356.2,636 359,637.2 361.7,638.5 364.4,639.7 367.1,640.9 369.8,642.2 372.6,643.4 375.3,644.6 378,645.8 380.7,646.9 383.4,648.1 386.2,649.2 388.9,650.3 391.6,651.4 394.3,652.4 397,653.4 399.8,654.3 402.5,655.3 405.2,656.2 407.9,657.1 410.6,658 413.4,658.9 416.1,659.8 418.8,660.6 421.5,661.4 424.2,662.2 427,663 429.7,663.8 432.4,664.6 435.1,665.3 437.8,666 440.6,666.7 443.3,667.4 446,668.1 448.7,668.8 451.4,669.4 454.2,670.1 456.9,670.7 459.6,671.3 462.3,671.9 465,672.5 467.8,673.1 470.5,673.7 473.2,674.2 475.9,674.8 478.6,675.4 481.4,675.9 484.1,676.4 486.8,677 489.5,677.5 492.2,678 495,678.5 497.7,679 500.4,679.5 503.1,679.9 505.8,680.4 508.6,680.8 511.3,681.2 514,681.6 516.7,682 519.4,682.3 522.2,682.7 524.9,683 527.6,683.3 530.3,683.6 533,683.9 535.8,684.2 538.5,684.5 541.2,684.8 543.9,685.1 546.6,685.5 549.4,685.8 552.1,686.1 554.8,686.4 557.5,686.8 560.2,687.2 563,687.5 565.7,688 568.4,688.4 571.1,688.8 573.8,689.3 576.6,689.8 579.3,690.4 582,690.9 584.7,691.4 587.4,692 590.2,692.6 592.9,693.1 595.6,693.6 598.3,694.2 601,694.7 603.8,695.2 606.5,695.7 609.2,696.3 611.9,696.8 614.6,697.3 617.4,697.8 620.1,698.3 622.8,698.9 625.5,699.4 628.2,699.9 631,700.4 633.7,700.9 636.4,701.4 639.1,701.9 641.8,702.4 644.6,702.9 647.3,703.4 650,703.8 652.7,704.3 655.4,704.8 658.2,705.2 660.9,705.7 663.6,706.2 666.3,706.6 669,707.1 671.8,707.6 674.5,708 677.2,708.4 679.9,708.8 682.6,709.2 685.4,709.5 688.1,709.8 690.8,710.1 693.5,710.3 696.2,710.6 699,710.8 701.7,711 704.4,711.2 707.1,711.4 709.8,711.6 712.6,711.8 715.3,712 718,712.2 720.7,712.4 723.4,712.5 726.2,712.7 728.9,712.9 731.6,713 734.3,713.2 737,713.3 739.8,713.5 742.5,713.6 745.2,713.8 747.9,713.9 750.6,714 753.4,714.2 756.1,714.3 758.8,714.4 761.5,714.6 764.2,714.7 767,714.8 769.7,714.9 772.4,715.1 775.1,715.2 777.8,715.3 780.6,715.4 783.3,715.5 786,715.6 788.7,715.7 791.4,715.8 794.2,715.9 796.9,716 799.6,716.1 802.3,716.2 805,716.3 807.8,716.4 810.5,716.5 813.2,716.6 815.9,716.7 818.6,716.8 821.4,716.9 824.1,717 826.8,717 829.5,717.1 832.2,717.2 835,717.3 837.7,717.4 840.4,717.5 843.1,717.5 845.8,717.6 848.6,717.7 851.3,717.8 854,717.9 856.7,717.9 859.4,718 862.2,718.1 864.9,718.1 867.6,718.2 870.3,718.3 873,718.4 875.8,718.4 878.5,718.5 881.2,718.6 883.9,718.6 886.6,718.7 889.4,718.8 892.1,718.8 894.8,718.9 897.5,718.9 900.2,719 903,719.1 905.7,719.1 908.4,719.2 911.1,719.2 913.8,719.3 916.6,719.4 919.3,719.4 922,719.5 924.7,719.5 927.4,719.6 930.2,719.6 932.9,719.7 935.6,719.8 938.3,719.8 941,719.9 943.8,719.9 946.5,720 949.2,720 951.9,720.1 954.6,720.1 957.4,720.2 960.1,720.2 962.8,720.3 965.5,720.3 968.2,720.4 971,720.4 973.7,720.5 976.4,720.5 979.1,720.6 981.8,720.6 984.6,720.7 987.3,720.7 990,720.8 992.7,720.8 995.4,720.9 998.2,720.9 1000.9,721 1003.6,721 1006.3,721 1009,721.1 1011.8,721.1 1014.5,721.2 1017.2,721.2 1019.9,721.2 1022.6,721.3 1025.4,721.3 1028.1,721.4 1030.8,721.4 1033.5,721.4 1036.2,721.5 1039,721.5" stroke="none" marker-start="url(#ng)" marker-mid="url(#ng)" marker-end="url(#ng)"/>
<polyline points="107,727 109.7,726.6 112.4,726.2 115.2,725.6 117.9,725 120.6,724.3 123.3,723.5 126,722.7 128.8,721.7 131.5,720.5 134.2,719.2 136.9,717.8 139.6,716.4 142.4,714.9 145.1,713.4 147.8,712 150.5,710.6 153.2,709.2 156,707.9 158.7,706.5 161.4,705.2 164.1,703.8 166.8,702.4 169.6,700.9 172.3,699.4 175,697.9 177.7,696.3 180.4,694.7 183.2,693.1 185.9,691.4 188.6,689.7 191.3,688 194,686.2 196.8,684.3 199.5,682.3 202.2,680.4 204.9,678.6 207.6,676.9 210.4,675.3 213.1,673.8 215.8,672.3 218.5,670.9 221.2,669.4 224,667.9 226.7,666.4 229.4,664.7 232.1,663 234.8,661.3 237.6,659.6 240.3,658 243,656.5 245.7,655.1 248.4,653.9 251.2,652.7 253.9,651.6 256.6,650.5 259.3,649.5 262,648.5 264.8,647.6 267.5,646.8 270.2,645.9 272.9,645.2 275.6,644.4 278.4,643.7 281.1,643 283.8,642.5 286.5,642 289.2,641.5 292,641.1 294.7,640.8 297.4,640.5 300.1,640.3 302.8,640.2 305.6,640.1 308.3,640 311,640 313.7,640.1 316.4,640.3 319.2,640.7 321.9,641.1 324.6,641.4 327.3,641.8 330,642.1 332.8,642.4 335.5,642.8 338.2,643.2 340.9,643.6 343.6,644 346.4,644.5 349.1,645 351.8,645.6" stroke="none" marker-start="url(#mh)" marker-mid="url(#mh)" marker-end="url(#mh)"/>
<polyline points="354.5,646.4 357.2,647.3 360,648.4 362.7,649.7 365.4,650.9 368.1,652.2 370.8,653.5 373.6,654.7 376.3,655.7 379,656.7 381.7,657.6 384.4,658.5 387.2,659.3 389.9,660.1 392.6,660.9 395.3,661.7 398,662.5 400.8,663.3 403.5,664 406.2,664.8 408.9,665.5 411.6,666.3 414.4,667.1 417.1,667.9 419.8,668.7 422.5,669.5 425.2,670.3 428,671.1 430.7,671.9 433.4,672.7 436.1,673.5 438.8,674.3 441.6,675 444.3,675.8 447,676.5 449.7,677.2 452.4,677.9 455.2,678.5 457.9,679.2 460.6,679.8 463.3,680.4 466,681 468.8,681.6 471.5,682.2 474.2,682.8 476.9,683.4 479.6,683.9 482.4,684.5 485.1,685 487.8,685.5 490.5,686 493.2,686.4 496,686.8 498.7,687.2 501.4,687.6 504.1,688 506.8,688.4 509.6,688.7 512.3,689 515,689.3 517.7,689.7 520.4,690 523.2,690.3 525.9,690.6 528.6,690.8 531.3,691.1 534,691.4 536.8,691.7 539.5,692 542.2,692.2 544.9,692.5 547.6,692.8 550.4,693 553.1,693.3 555.8,693.5 558.5,693.8 561.2,694 564,694.3 566.7,694.6 569.4,694.8 572.1,695.1 574.8,695.4 577.6,695.6 580.3,695.9 583,696.2 585.7,696.5 588.4,696.7 591.2,697 593.9,697.3 596.6,697.6 599.3,697.9 602,698.2 604.8,698.6 607.5,698.9 610.2,699.3 612.9,699.7 615.6,700 618.4,700.4 621.1,700.8 623.8,701.2 626.5,701.6 629.2,702 632,702.4 634.7,702.8 637.4,703.2 640.1,703.6 642.8,703.9 645.6,704.3 648.3,704.7 651,705 653.7,705.3 656.4,705.7 659.2,706 661.9,706.4 664.6,706.7 667.3,707.1 670,707.4 672.8,707.7 675.5,708 678.2,708.3 680.9,708.6 683.6,708.9 686.4,709.2 689.1,709.4 691.8,709.7 694.5,709.9 697.2,710.1 700,710.3 702.7,710.5 705.4,710.7 708.1,710.9 710.8,711.1 713.6,711.3 716.3,711.5 719,711.7 721.7,711.9 724.4,712 727.2,712.2 729.9,712.4 732.6,712.5 735.3,712.7 738,712.9 740.8,713 743.5,713.2 746.2,713.3 748.9,713.4 751.6,713.6 754.4,713.7 757.1,713.9 759.8,714 762.5,714.1 765.2,714.2 768,714.4 770.7,714.5 773.4,714.6 776.1,714.7 778.8,714.8 781.6,714.9 784.3,715.1 787,715.2 789.7,715.3 792.4,715.4 795.2,715.5 797.9,715.6 800.6,715.7 803.3,715.8 806,715.9 808.8,716 811.5,716 814.2,716.1 816.9,716.2 819.6,716.3 822.4,716.4 825.1,716.5 827.8,716.6 830.5,716.7 833.2,716.7 836,716.8 838.7,716.9 841.4,717 844.1,717.1 846.8,717.2 849.6,717.2 852.3,717.3 855,717.4 857.7,717.5 860.4,717.5 863.2,717.6 865.9,717.7 868.6,717.7 871.3,717.8 874,717.9 876.8,718 879.5,718 882.2,718.1 884.9,718.2 887.6,718.2 890.4,718.3 893.1,718.3 895.8,718.4 898.5,718.5 901.2,718.5 904,718.6 906.7,718.6 909.4,718.7 912.1,718.8 914.8,718.8 917.6,718.9 920.3,718.9 923,719 925.7,719.1 928.4,719.1 931.2,719.2 933.9,719.2 936.6,719.3 939.3,719.3 942,719.4 944.8,719.4 947.5,719.5 950.2,719.6 952.9,719.6 955.6,719.7 958.4,719.7 961.1,719.8 963.8,719.8 966.5,719.9 969.2,719.9 972,720 974.7,720 977.4,720.1 980.1,720.1 982.8,720.2 985.6,720.2 988.3,720.3 991,720.3 993.7,720.3 996.4,720.4 999.2,720.4 1001.9,720.5 1004.6,720.5 1007.3,720.6 1010,720.6 1012.8,720.6 1015.5,720.7 1018.2,720.7 1020.9,720.8 1023.6,720.8 1026.4,720.8 1029.1,720.9 1031.8,720.9 1034.5,720.9 1037.2,721 1040,721" stroke="none" marker-start="url(#nh)" marker-mid="url(#nh)" marker-end="url(#nh)"/>
<polyline points="100,727 102.7,727 105.4,727 108.2,727 110.9,726.9 113.6,726.9 116.3,726.9 119,726.9 121.8,726.9 124.5,726.8 127.2,726.8 129.9,726.8 132.6,726.7 135.4,726.7 138.1,726.7 140.8,726.6 143.5,726.6 146.2,726.6 149,726.5 151.7,726.5 154.4,726.4 157.1,726.4 159.8,726.4 162.6,726.3 165.3,726.3 168,726.2 170.7,726.2 173.4,726.1 176.2,726 178.9,726 181.6,725.9 184.3,725.8 187,725.7 189.8,725.7 192.5,725.6 195.2,725.4 197.9,725.3 200.6,725.1 203.4,724.8 206.1,724.5 208.8,724.1 211.5,723.8 214.2,723.4 217,723 219.7,722.6 222.4,722.2 225.1,721.8 227.8,721.4 230.6,721 233.3,720.6 236,720.1 238.7,719.7 241.4,719.2 244.2,718.7 246.9,718.2 249.6,717.7 252.3,717.2 255,716.7 257.8,716.2 260.5,715.7 263.2,715.2 265.9,714.7 268.6,714.2 271.4,713.8 274.1,713.3 276.8,712.9 279.5,712.4 282.2,712 285,711.5 287.7,711.1 290.4,710.7 293.1,710.2 295.8,709.8 298.6,709.3 301.3,708.9 304,708.4 306.7,707.9 309.4,707.5 312.2,707 314.9,706.4 317.6,705.9 320.3,705.3 323,704.7 325.8,704 328.5,703.3 331.2,702.5 333.9,701.7 336.6,700.9 339.4,700.1 342.1,699.3 344.8,698.5 347.5,697.8 350.2,697.1 353,696.5 355.7,695.9 358.4,695.4 361.1,695 363.8,694.6 366.6,694.2 369.3,693.8 372,693.5 374.7,693.1 377.4,692.8 380.2,692.4 382.9,692.1 385.6,691.8 388.3,691.6 391,691.3 393.8,691 396.5,690.8 399.2,690.5 401.9,690.3 404.6,690.1 407.4,689.9 410.1,689.7 412.8,689.5 415.5,689.2 418.2,689 421,688.8 423.7,688.6 426.4,688.5 429.1,688.3 431.8,688.2 434.6,688.1 437.3,688 440,688 442.7,688 445.4,688 448.2,688 450.9,688 453.6,688 456.3,688 459,688 461.8,688 464.5,688 467.2,688 469.9,688 472.6,688 475.4,688.1 478.1,688.2 480.8,688.3 483.5,688.5 486.2,688.7 489,688.8 491.7,689 494.4,689.2 497.1,689.4 499.8,689.5 502.6,689.6 505.3,689.7 508,689.8 510.7,689.9 513.4,690.1 516.2,690.2 518.9,690.3 521.6,690.4 524.3,690.5 527,690.6 529.8,690.7 532.5,690.7 535.2,690.8 537.9,690.9 540.6,691 543.4,691.1 546.1,691.2 548.8,691.3 551.5,691.4 554.2,691.5 557,691.6 559.7,691.7 562.4,691.9 565.1,692 567.8,692.1 570.6,692.2 573.3,692.3 576,692.4 578.7,692.5 581.4,692.6 584.2,692.8 586.9,692.9 589.6,693 592.3,693.1 595,693.2 597.8,693.3 600.5,693.5 603.2,693.6 605.9,693.7 608.6,693.8 611.4,694 614.1,694.1 616.8,694.2 619.5,694.3 622.2,694.5 625,694.6 627.7,694.7 630.4,694.9 633.1,695 635.8,695.2 638.6,695.3 641.3,695.5 644,695.6 646.7,695.8 649.4,695.9 652.2,696.1 654.9,696.2 657.6,696.4 660.3,696.6 663,696.8 665.8,696.9 668.5,697.1 671.2,697.3 673.9,697.5 676.6,697.7 679.4,697.9 682.1,698.1 684.8,698.4 687.5,698.6 690.2,698.8 693,699 695.7,699.2 698.4,699.4 701.1,699.7 703.8,699.9 706.6,700.1 709.3,700.3 712,700.5 714.7,700.8 717.4,701 720.2,701.2 722.9,701.4 725.6,701.7 728.3,701.9 731,702.1 733.8,702.3 736.5,702.5 739.2,702.7 741.9,703 744.6,703.2 747.4,703.4 750.1,703.7 752.8,703.9 755.5,704.1 758.2,704.4 761,704.6 763.7,704.8 766.4,705.1 769.1,705.3 771.8,705.5 774.6,705.8 777.3,706 780,706.2 782.7,706.4 785.4,706.7 788.2,706.9 790.9,707.1 793.6,707.3 796.3,707.5 799,707.7 801.8,707.9 804.5,708.1 807.2,708.3 809.9,708.5 812.6,708.7 815.4,708.9 818.1,709 820.8,709.2 823.5,709.4 826.2,709.5 829,709.7 831.7,709.9 834.4,710 837.1,710.2 839.8,710.4 842.6,710.5 845.3,710.7 848,710.9 850.7,711 853.4,711.2 856.2,711.3 858.9,711.5 861.6,711.6 864.3,711.8 867,711.9 869.8,712 872.5,712.2 875.2,712.3 877.9,712.5 880.6,712.6 883.4,712.7 886.1,712.9 888.8,713 891.5,713.1 894.2,713.2 897,713.4 899.7,713.5 902.4,713.6 905.1,713.7 907.8,713.8 910.6,714 913.3,714.1 916,714.2 918.7,714.3 921.4,714.4 924.2,714.5 926.9,714.7 929.6,714.8 932.3,714.9 935,715 937.8,715.1 940.5,715.2 943.2,715.3 945.9,715.4 948.6,715.5 951.4,715.7 954.1,715.8 956.8,715.9 959.5,716 962.2,716.1 965,716.2 967.7,716.3 970.4,716.4 973.1,716.5 975.8,716.6 978.6,716.7 981.3,716.8 984,716.9 986.7,717 989.4,717 992.2,717.1 994.9,717.2 997.6,717.3 1000.3,717.4 1003,717.5 1005.8,717.6 1008.5,717.6 1011.2,717.7 1013.9,717.8 1016.6,717.9 1019.4,718 1022.1,718 1024.8,718.1 1027.5,718.2 1030.2,718.3 1033,718.3 1035.7,718.4 1038.4,718.5" stroke="none" marker-start="url(#mi)" marker-mid="url(#mi)" marker-end="url(#mi)"/>
<polyline points="802,725.1 804.8,725.1 807.5,725.1 810.2,725.1 812.9,725.1 815.6,725.1 818.4,725.1 821.1,725.1 823.8,725.1 826.5,725.1 829.2,725.1 832,725.1 834.7,725.1 837.4,725.1 840.1,725.1 842.8,725.1 845.6,725.1 848.3,725.1 851,725.1 853.7,725.2 856.4,725.2 859.2,725.2 861.9,725.2 864.6,725.2 867.3,725.2 870,725.2 872.8,725.2 875.5,725.2 878.2,725.2 880.9,725.2 883.6,725.2 886.4,725.2 889.1,725.2 891.8,725.2 894.5,725.2 897.2,725.2 900,725.2 902.7,725.2 905.4,725.2 908.1,725.2 910.8,725.2 913.6,725.2 916.3,725.2 919,725.2 921.7,725.2 924.4,725.2 927.2,725.2 929.9,725.2 932.6,725.2 935.3,725.2 938,725.2 940.8,725.2 943.5,725.2 946.2,725.2 948.9,725.2 951.6,725.2 954.4,725.2 957.1,725.2 959.8,725.2 962.5,725.2 965.2,725.2 968,725.2 970.7,725.2 973.4,725.2 976.1,725.2 978.8,725.2 981.6,725.2 984.3,725.2 987,725.2 989.7,725.2 992.4,725.2 995.2,725.2 997.9,725.2 1000.6,725.2 1003.3,725.2 1006,725.2 1008.8,725.2 1011.5,725.2 1014.2,725.2 1016.9,725.2 1019.6,725.2 1022.4,725.2 1025.1,725.2 1027.8,725.2 1030.5,725.2 1033.2,725.2 1036,725.2 1038.7,725.2" stroke="none" marker-start="url(#nd)" marker-mid="url(#nd)" marker-end="url(#nd)"/>
<polyline points="118,716.3 131.6,718.1 145.2,721 158.8,723.5 172.4,723.9 186,724 199.6,724 213.2,724 226.8,723.5 240.4,723.1 254,722.8 267.6,722.3 281.2,721.5 294.8,720.5 308.4,719.2 322,718 335.6,717.1 349.2,716.4 362.8,715.6 376.4,714.5 390,713.2 403.6,712 417.2,710.9 430.8,710 444.4,709.1 458,708.4 471.6,707.7 485.2,707 498.8,706.4 512.4,705.9 526,705.5 539.6,705.2 553.2,705 566.8,704.8 580.4,704.8 594,704.9 607.6,705.1 621.2,705.4 634.8,705.7 648.4,706 662,706.3 675.6,706.6 689.2,707 702.8,707.4 716.4,707.8 730,708.2 743.6,708.7 757.2,709.1 770.8,709.6 784.4,710 798,710.4 811.6,710.8 825.2,711.3 838.8,711.7 852.4,712.1 866,712.5 879.6,712.9 893.2,713.3 906.8,713.7 920.4,714.1 934,714.5 947.6,714.9 961.2,715.3 974.8,715.7 988.4,716.1 1002,716.4 1015.6,716.8 1029.2,717.2" stroke="none" marker-start="url(#mj)" marker-mid="url(#mj)" marker-end="url(#mj)"/>
</g>
<rect x="60.6" y="728.7" width="980.2" height="3" fill="#000"/>
<g stroke="#000" stroke-width="5.4" fill="none" stroke-linecap="butt">
<path d="M60.6 745.7V7H1040.8V745.7" stroke-linejoin="round"/>
<path d="M387.3 729V745.7"/>
<path d="M714.1 729V745.7"/>
<path d="M224 729V738.2"/>
<path d="M550.7 729V738.2"/>
<path d="M877.4 729V738.2"/>
</g>
<g font-family="'Liberation Serif','Times New Roman',serif" font-weight="bold" font-size="36" text-anchor="middle" fill="#000">
<text x="61" y="781.6">0</text>
<text x="387.7" y="781.6">2</text>
<text x="714.5" y="781.6">4</text>
<text x="1041.2" y="781.6">6</text>
</g>
<text x="550.5" y="820" font-family="'Liberation Serif','Times New Roman',serif" font-weight="bold" font-size="41.7" text-anchor="middle" fill="#000">Time (min)</text>
<text transform="translate(34.8 680.5) rotate(-90)" font-family="'Liberation Serif','Times New Roman',serif" font-weight="bold" font-size="41" fill="#000" textLength="523" lengthAdjust="spacingAndGlyphs">Exothermic Heat Flow (W/g)</text>
<path d="M22.6 149V60" stroke="#000" stroke-width="5.6" fill="none" stroke-linecap="round"/>
<path d="M22.5 35.6Q27.5 50 30.6 65.2L22.5 60.5L14.4 65.2Q17.5 50 22.5 35.6Z" fill="#000" stroke="#000" stroke-width="2.4" stroke-linejoin="round"/>
<g font-family="'Liberation Serif','Times New Roman',serif" font-size="39.3" fill="#000">
<path d="M833.6 42H917.2" stroke="#d40000" stroke-width="5" fill="none"/>
<g transform="translate(874.8 42)"><rect x="-4.8" y="-5" width="9.6" height="10" fill="#fff"/></g>
<text x="924.3" y="54.7">749 K</text>
<path d="M833.6 89.8H917.2" stroke="#22dd22" stroke-width="5" fill="none"/>
<g transform="translate(874.8 89.8)"><circle cx="0" cy="0" r="4.6" fill="#fff" stroke="#2a9a2a" stroke-width="0.9"/></g>
<text x="924.3" y="102.5">747 K</text>
<path d="M833.6 137.5H917.2" stroke="#0a0a9a" stroke-width="2.6" fill="none"/>
<g transform="translate(874.8 137.5)"><polygon points="0,-5 5,4 -5,4" fill="#fff" stroke="#0a0a9a" stroke-width="1.1"/></g>
<text x="924.3" y="150.2">745 K</text>
<path d="M833.6 185.2H917.2" stroke="#40e0d0" stroke-width="5.5" fill="none"/>
<g transform="translate(874.8 185.2)"><polygon points="0,5 4.5,-3 -4.5,-3" fill="#fff" stroke="#48d8cc" stroke-width="1.0"/></g>
<text x="924.3" y="197.9">743 K</text>
<path d="M833.6 233H917.2" stroke="#d4147a" stroke-width="5" fill="none"/>
<g transform="translate(874.8 233)"><polygon points="0,-5.5 6,0 0,5.5 -6,0" fill="#fff" stroke="#f0b0e0" stroke-width="0.9"/></g>
<text x="924.3" y="245.7">741 K</text>
<path d="M833.6 280.8H917.2" stroke="#9a9a3a" stroke-width="5" fill="none"/>
<g transform="translate(874.8 280.8)"><polygon points="-5,0 3,-5 3,5" fill="#fff" stroke="#8a8a30" stroke-width="0.9"/></g>
<text x="924.3" y="293.4">738 K</text>
<path d="M833.6 328.5H917.2" stroke="#8a0a6a" stroke-width="4.5" fill="none"/>
<g transform="translate(874.8 328.5)"><polygon points="5,0 -3,-5 -3,5" fill="#fff" stroke="#9060b0" stroke-width="0.9"/></g>
<text x="924.3" y="341.2">736 K</text>
<path d="M833.6 376.2H917.2" stroke="#7a0a30" stroke-width="5" fill="none"/>
<g transform="translate(874.8 376.2)"><circle cx="0" cy="0" r="4.6" fill="#fff" stroke="#8060b0" stroke-width="0.9"/></g>
<text x="924.3" y="388.9">733 K</text>
<path d="M833.6 424H917.2" stroke="#208a20" stroke-width="4.5" fill="none"/>
<g transform="translate(874.8 424)"><circle cx="0" cy="0" r="4.6" fill="#fff" stroke="#b0d0b0" stroke-width="0.9"/></g>
<text x="924.3" y="436.7">728 K</text>
<path d="M833.6 471.8H917.2" stroke="#000" stroke-width="5" fill="none"/>
<g transform="translate(874.8 471.8)"><circle cx="0" cy="0" r="5.5" fill="#000" stroke="#000" stroke-width="0"/></g>
<text x="924.3" y="484.4">723 K</text>
</g>
</svg>
</body></html>
